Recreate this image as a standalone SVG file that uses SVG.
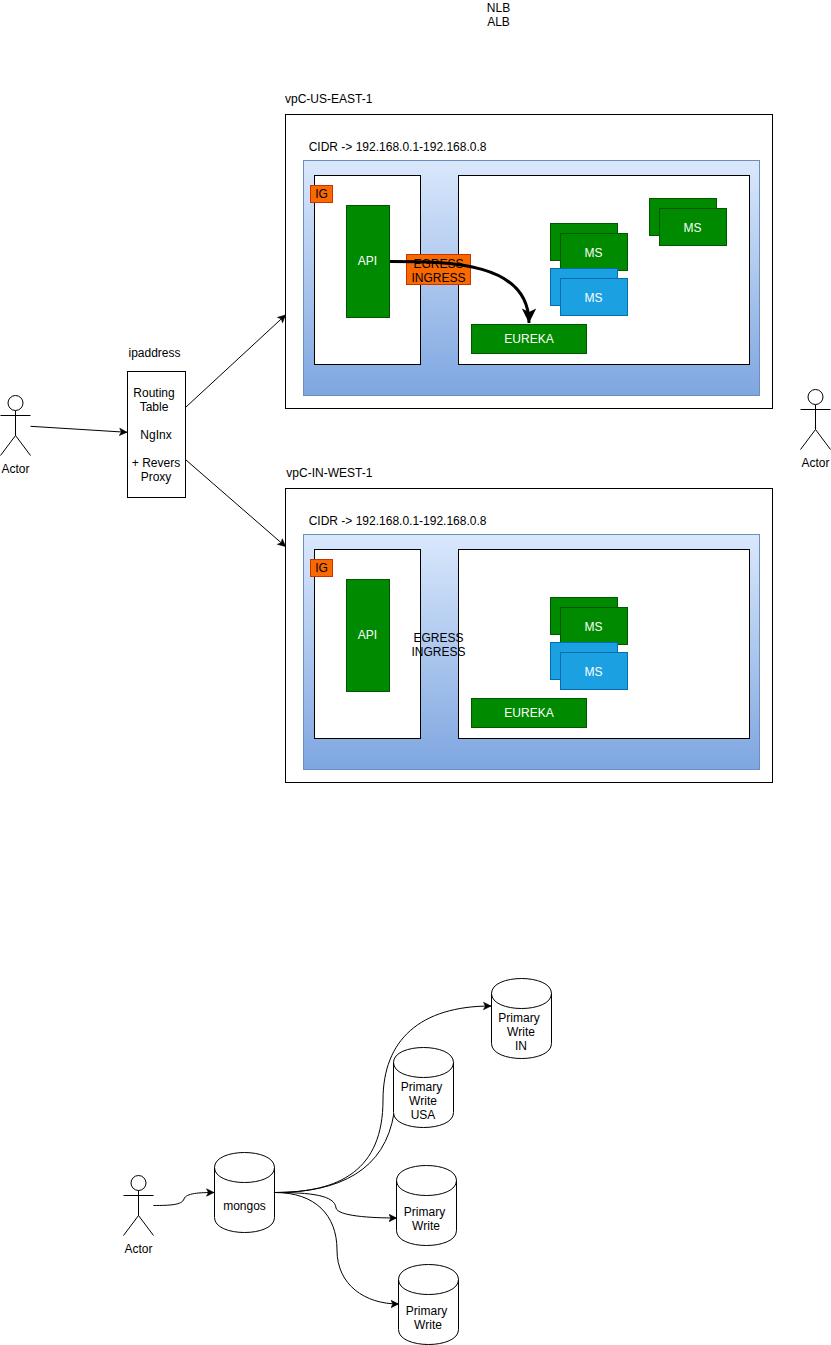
<svg xmlns="http://www.w3.org/2000/svg" width="831" height="1345" viewBox="0 0 831 1345">
<style>
text{font-family:"Liberation Sans",Arial,Helvetica,sans-serif;font-size:12px;fill:#000;text-anchor:middle}
text.s{text-anchor:start}
text.w{fill:#fff}
.box{fill:#fff;stroke:#000;stroke-width:1}
.sub{fill:url(#blueGrad);stroke:#6c8ebf;stroke-width:1}
.green{fill:#008a00;stroke:#005700;stroke-width:1}
.blue{fill:#1ba1e2;stroke:#006eaf;stroke-width:1}
.orange{fill:#fa6800;stroke:#c73500;stroke-width:1}
.line{fill:none;stroke:#000;stroke-width:1}
.fig{fill:#fff;stroke:#000;stroke-width:1}
.edge{fill:none;stroke:#000;stroke-width:1;marker-end:url(#arrow)}
.thick{fill:none;stroke:#000;stroke-width:3;marker-end:url(#arrowBig)}
</style>
<defs>
<linearGradient id="blueGrad" x1="0" y1="0" x2="0" y2="1"><stop offset="0" stop-color="#dae8fc"/><stop offset="1" stop-color="#7ea6e0"/></linearGradient>
<marker id="arrow" markerUnits="userSpaceOnUse" markerWidth="9" markerHeight="9" viewBox="0 0 9 9" refX="8" refY="4.5" orient="auto"><path d="M8 4.5 L0.5 0.8 L2.4 4.5 L0.5 8.2Z" fill="#000" stroke="#000" stroke-width="0.6"/></marker>
<marker id="arrowBig" markerUnits="userSpaceOnUse" markerWidth="16" markerHeight="16" viewBox="0 0 16 16" refX="15" refY="8" orient="auto"><path d="M15 8 L0.5 0.8 L4 8 L0.5 15.2Z" fill="#000"/></marker>
</defs>

<g id="lb-labels"><text x="498.5" y="12">NLB</text><text x="498.5" y="26">ALB</text></g>

<g id="vpc-us-east">
<text class="s" x="285" y="103">vpC-US-EAST-1</text>
<rect class="box" x="285.5" y="114.5" width="487" height="294"/>
<text class="s" x="308.7" y="151">CIDR -&gt; 192.168.0.1-192.168.0.8</text>
<rect class="sub" x="303.5" y="160.5" width="456" height="235"/>
</g>
<g id="us-public-subnet"><rect class="box" x="314.5" y="175.5" width="106" height="189"/></g>
<g id="us-private-subnet"><rect class="box" x="458.5" y="175.5" width="291" height="189"/></g>
<g id="us-ig"><rect class="orange" x="310.5" y="185.5" width="22" height="17"/><text x="321.5" y="198">IG</text></g>
<g id="us-api"><rect class="green" x="346.5" y="205.5" width="43" height="112"/><text class="w" x="367.5" y="265">API</text></g>
<g id="us-ms-1"><rect class="green" x="550.5" y="223.5" width="67" height="37"/><rect class="green" x="560.5" y="233.5" width="67" height="37"/><text class="w" x="593.5" y="257">MS</text></g>
<g id="us-ms-2"><rect class="blue" x="550.5" y="268.5" width="67" height="37"/><rect class="blue" x="560.5" y="278.5" width="67" height="37"/><text class="w" x="593.5" y="302">MS</text></g>
<g id="us-ms-3"><rect class="green" x="649.5" y="198.5" width="67" height="37"/><rect class="green" x="659.5" y="208.5" width="67" height="37"/><text class="w" x="692.5" y="232">MS</text></g>
<g id="us-eureka"><rect class="green" x="471.5" y="324.5" width="115" height="29"/><text class="w" x="529" y="343">EUREKA</text></g>
<g id="us-gateway"><rect class="orange" x="406.5" y="254.5" width="64" height="30"/><text x="438.5" y="268">EGRESS</text><text x="438.5" y="282">INGRESS</text></g>

<g id="vpc-in-west">
<text class="s" x="286.3" y="477">vpC-IN-WEST-1</text>
<rect class="box" x="285.5" y="488.5" width="487" height="294"/>
<text class="s" x="308.7" y="525">CIDR -&gt; 192.168.0.1-192.168.0.8</text>
<rect class="sub" x="303.5" y="534.5" width="456" height="235"/>
</g>
<g id="in-public-subnet"><rect class="box" x="314.5" y="549.5" width="106" height="189"/></g>
<g id="in-private-subnet"><rect class="box" x="458.5" y="549.5" width="291" height="189"/></g>
<g id="in-ig"><rect class="orange" x="310.5" y="559.5" width="22" height="17"/><text x="321.5" y="572">IG</text></g>
<g id="in-api"><rect class="green" x="346.5" y="579.5" width="43" height="112"/><text class="w" x="367.5" y="639">API</text></g>
<g id="in-ms-1"><rect class="green" x="550.5" y="597.5" width="67" height="37"/><rect class="green" x="560.5" y="607.5" width="67" height="37"/><text class="w" x="593.5" y="631">MS</text></g>
<g id="in-ms-2"><rect class="blue" x="550.5" y="642.5" width="67" height="37"/><rect class="blue" x="560.5" y="652.5" width="67" height="37"/><text class="w" x="593.5" y="676">MS</text></g>
<g id="in-eureka"><rect class="green" x="471.5" y="698.5" width="115" height="29"/><text class="w" x="529" y="717">EUREKA</text></g>
<g id="in-gateway"><text x="438.5" y="642">EGRESS</text><text x="438.5" y="656">INGRESS</text></g>

<g id="actor-left"><ellipse class="fig" cx="15.5" cy="403" rx="7.5" ry="7.5"/><path class="line" d="M15.5 410.5V435.5M0.5 415.5H30.5M0.5 455.5L15.5 435.5L30.5 455.5"/><text x="15.5" y="473">Actor</text></g>
<g id="actor-right"><ellipse class="fig" cx="815.5" cy="397" rx="7.5" ry="7.5"/><path class="line" d="M815.5 404.5V429.5M800.5 409.5H830.5M800.5 449.5L815.5 429.5L830.5 449.5"/><text x="815.5" y="467">Actor</text></g>

<g id="nginx"><text x="154.5" y="357">ipaddress</text><rect class="box" x="127.5" y="371.5" width="58" height="126"/>
<text x="154" y="397">Routing</text><text x="154" y="411">Table</text><text x="156" y="439">NgInx</text><text x="156" y="467">+ Revers</text><text x="156" y="481">Proxy</text></g>

<g id="connectors">
<path class="edge" d="M30.5 426.3L127 432.3"/>
<path class="edge" d="M186 407L285.5 315"/>
<path class="edge" d="M186 460L285.5 546.5"/>
<path class="thick" d="M390 261.5C450 261.5 529 262 529 323"/>
<path class="edge" d="M153.5 1205.5C170 1205.5 182 1205 184 1199C186 1193 200 1192.5 214 1192.5"/>
<path class="edge" d="M275 1192.5C340 1192.5 383 1170 383 1100C383 1040 420 1006 491 1006"/>
<path class="line" d="M275 1192.5C340 1192.5 385 1170 394 1113"/>
<path class="edge" d="M275 1192.5C310 1192.5 335 1195 336 1208C338 1216 370 1218 396.5 1218"/>
<path class="edge" d="M275 1192.5C315 1192.5 337 1215 337 1250C337 1285 365 1304 398.5 1304"/>
</g>

<g id="actor-bottom"><ellipse class="fig" cx="138.5" cy="1183" rx="7.5" ry="7.5"/><path class="line" d="M138.5 1190.5V1215.5M123.5 1195.5H153.5M123.5 1235.5L138.5 1215.5L153.5 1235.5"/><text x="138.5" y="1253">Actor</text></g>
<g id="db-mongos"><path class="fig" d="M214.5 1167.5C214.5 1147.5 274.5 1147.5 274.5 1167.5V1217.5C274.5 1237.5 214.5 1237.5 214.5 1217.5Z"/><path class="line" d="M214.5 1167.5C214.5 1187.5 274.5 1187.5 274.5 1167.5"/><text x="244.5" y="1210">mongos</text></g>
<g id="db-in"><path class="fig" d="M491.5 993.5C491.5 973.5 551.5 973.5 551.5 993.5V1043.5C551.5 1063.5 491.5 1063.5 491.5 1043.5Z"/><path class="line" d="M491.5 993.5C491.5 1013.5 551.5 1013.5 551.5 993.5"/><text x="519" y="1022">Primary</text><text x="521" y="1036">Write</text><text x="521" y="1050">IN</text></g>
<g id="db-usa"><path class="fig" d="M393.5 1062.5C393.5 1042.5 453.5 1042.5 453.5 1062.5V1112.5C453.5 1132.5 393.5 1132.5 393.5 1112.5Z"/><path class="line" d="M393.5 1062.5C393.5 1082.5 453.5 1082.5 453.5 1062.5"/><text x="421.5" y="1091">Primary</text><text x="423" y="1105">Write</text><text x="423" y="1119">USA</text></g>
<g id="db-primary-1"><path class="fig" d="M396.5 1180.5C396.5 1160.5 456.5 1160.5 456.5 1180.5V1230.5C456.5 1250.5 396.5 1250.5 396.5 1230.5Z"/><path class="line" d="M396.5 1180.5C396.5 1200.5 456.5 1200.5 456.5 1180.5"/><text x="424.5" y="1216">Primary</text><text x="426" y="1230">Write</text></g>
<g id="db-primary-2"><path class="fig" d="M398.5 1279.5C398.5 1259.5 458.5 1259.5 458.5 1279.5V1329.5C458.5 1349.5 398.5 1349.5 398.5 1329.5Z"/><path class="line" d="M398.5 1279.5C398.5 1299.5 458.5 1299.5 458.5 1279.5"/><text x="426.5" y="1315">Primary</text><text x="428" y="1329">Write</text></g>
</svg>
